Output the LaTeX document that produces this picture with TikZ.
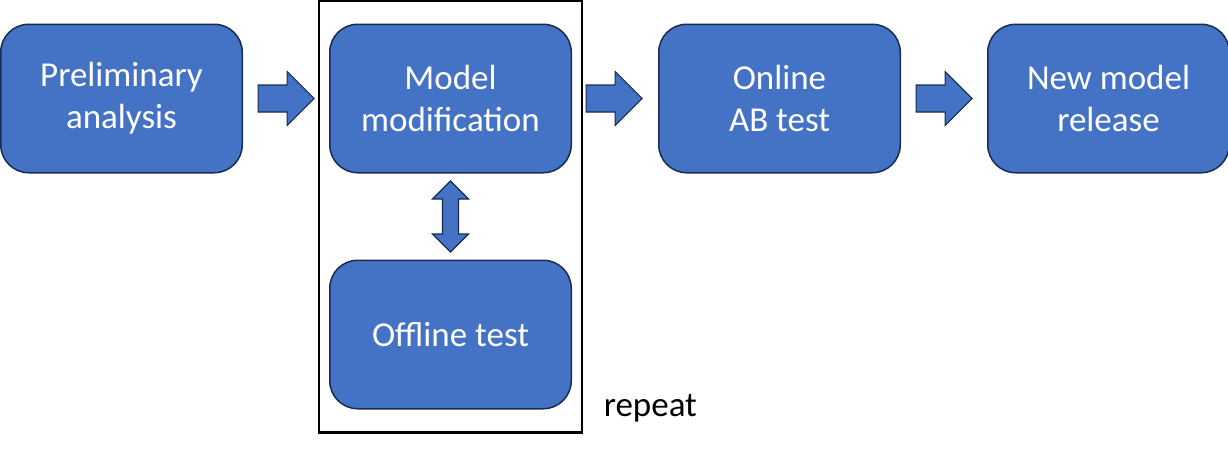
\documentclass[tikz,border=0pt]{standalone}
\usepackage{fontspec}
\setmainfont{Carlito}
\usepackage{tikz}
\usetikzlibrary{
  positioning,
  shapes.arrows,
  fit
}
\definecolor{stagefill}{HTML}{4472C4}
\definecolor{stageline}{HTML}{172C51}

\begin{document}
\begin{tikzpicture}[
      node distance=86pt,
      stage/.style={
         rectangle,
         rounded corners=28pt,
         minimum width=241.5pt,
         minimum height=148.5pt,
         line width=1.5pt,
         draw=stageline,
         fill=stagefill,
         text=white,
         align=center,
         font=\fontsize{35}{42}\selectfont
      },
      flow arrow/.style={
         single arrow,
         single arrow head extend=13.5pt,
         inner xsep=0pt,
         inner ysep=12.9pt,
         minimum height=56pt,
         line width=1.2pt,
         draw=stageline,
         fill=stagefill
      },
      swap arrow/.style={
         double arrow,
         double arrow head extend=10pt,
         inner xsep=0pt,
         inner ysep=7.4pt,
         minimum height=71pt,
         line width=1.2pt,
         draw=stageline,
         fill=stagefill
      },
      loop frame/.style={
         rectangle,
         draw=black,
         line width=2.5pt,
         inner xsep=10pt,
         inner ysep=23pt
      }
    ]
    \useasboundingbox (0,0) rectangle (1228pt,-450pt);
    % stages
    \node (prelim) [stage] at (121.5pt,-98.5pt) {Preliminary\\analysis};
    \node (modify) [stage, right=of prelim] {Model\\modification};
    \node (offline) [stage, below=of modify] {Offline test};
    \node (online) [stage, right=of modify] {Online\\AB test};
    \node (release) [stage, right=of online] {New model\\release};
    % repeat loop
    \node (loop) [loop frame, fit=(modify) (offline)] {};
    \node (repeat) [anchor=base west, font=\fontsize{35}{42}\selectfont]
       at ([xshift=17pt, yshift=17pt]loop.south east) {repeat};
    % arrows
    \node (a1) [flow arrow, right=14.5pt of prelim] {};
    \node (a2) [flow arrow, right=13.5pt of modify] {};
    \node (a3) [flow arrow, right=14.5pt of online] {};
    \path (modify.south) -- node (a4) [swap arrow, rotate=90] {} (offline.north);
\end{tikzpicture}
\end{document}
